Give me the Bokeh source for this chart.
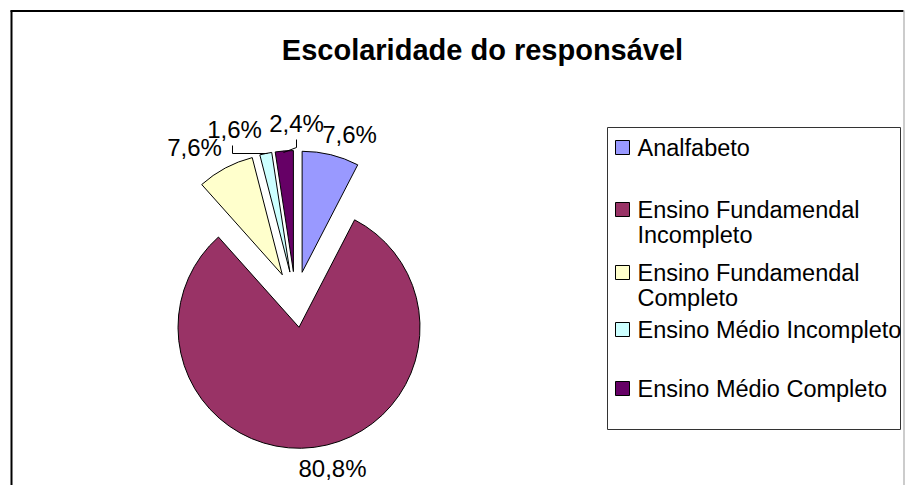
import numpy as np
from bokeh.plotting import figure
from bokeh.models import Range1d, ColumnDataSource
from bokeh.embed import file_html
from bokeh.resources import INLINE
from bokeh.core.properties import value

# ---- data ----
title = "Escolaridade do responsável"
categories = ["Analfabeto",
              "Ensino Fundamendal\nIncompleto",
              "Ensino Fundamendal\nCompleto",
              "Ensino Médio Incompleto",
              "Ensino Médio Completo"]
percent = [7.6, 80.8, 7.6, 1.6, 2.4]
pct_labels = ["7,6%", "80,8%", "7,6%", "1,6%", "2,4%"]

# ---- styles / layout ----
colors = ["#9999FF", "#993366", "#FFFFCC", "#CCFFFF", "#660066"]
FONT = value("Liberation Sans")
W, H = 905, 485
TXT_DY = 8  # renderer places text lower than the nominal baseline


def X(sx):
    return sx


def Y(sy):
    return H - sy


def YT(sy):
    return H - (sy - TXT_DY)


p = figure(width=W, height=H, output_backend="svg", toolbar_location=None,
           x_range=Range1d(0, W), y_range=Range1d(0, H),
           x_axis_location=None, y_axis_location=None,
           min_border=0, min_border_left=0, min_border_right=0,
           min_border_top=0, min_border_bottom=0)
p.grid.visible = False
p.outline_line_color = None
p.background_fill_color = "white"
p.border_fill_color = "white"

# outer chart frame
p.line(x=[X(11), X(11)], y=[Y(10), Y(490)], line_color="black", line_width=2)
p.line(x=[X(10), X(903)], y=[Y(10.5), Y(10.5)], line_color="black", line_width=2)
p.line(x=[X(903.5), X(903.5)], y=[Y(10), Y(490)], line_color="#999999", line_width=1)

# title
p.text(x=[X(482)], y=[YT(57)], text=[title], text_font=FONT, text_font_size="29px",
       text_font_style="bold", text_align="center", text_baseline="alphabetic",
       text_color="black")

# pie (Excel style: start at 12 o'clock, clockwise, exploded)
vals = np.array(percent, dtype=float)
frac = vals / vals.sum()
cum = np.concatenate([[0.0], np.cumsum(frac)]) * 360.0
a0, a1 = cum[:-1], cum[1:]
mid = (a0 + a1) / 2.0
cx, cy, r, d = X(295), Y(299), 121, 28
xs = cx + d * np.sin(np.radians(mid))
ys = cy + d * np.cos(np.radians(mid))
src = ColumnDataSource(dict(x=xs, y=ys,
                            start=np.radians(90 - a1), end=np.radians(90 - a0),
                            color=colors))
p.wedge(x="x", y="y", radius=r, start_angle="start", end_angle="end",
        direction="anticlock", fill_color="color", line_color="black",
        line_width=1, source=src)

# data labels (screen positions: center x, baseline y)
lab_pos = [(349, 142), (332, 476), (194, 155), (234, 137), (296, 131)]
p.text(x=[X(a) for a, b in lab_pos], y=[YT(b) for a, b in lab_pos], text=pct_labels,
       text_font=FONT, text_font_size="24px", text_align="center",
       text_baseline="alphabetic", text_color="black")

# leader lines for small slices
p.multi_line(xs=[[X(232), X(232), X(267)], [X(296), X(296), X(283)]],
             ys=[[Y(145), Y(153), Y(153)], [Y(139), Y(147), Y(152)]],
             line_color="black", line_width=1)

# legend
p.quad(left=[X(607)], right=[X(900)], top=[Y(127)], bottom=[Y(429)],
       fill_color="white", line_color="#333333", line_width=1)
row_mid = [147, 209, 272, 329, 388]
p.rect(x=[X(622)] * len(categories), y=[Y(m) for m in row_mid], width=14, height=14,
       width_units="screen", height_units="screen", fill_color=colors,
       line_color="black", line_width=1)
tx, ty, tt = [], [], []
for cat, m in zip(categories, row_mid):
    for k, line in enumerate(cat.split("\n")):
        tx.append(X(637))
        ty.append(YT(m + 8 + 25 * k))
        tt.append(line)
p.text(x=tx, y=ty, text=tt, text_font=FONT, text_font_size="23.5px",
       text_align="left", text_baseline="alphabetic", text_color="black")

open("out.html", "w").write(file_html(p, INLINE))
